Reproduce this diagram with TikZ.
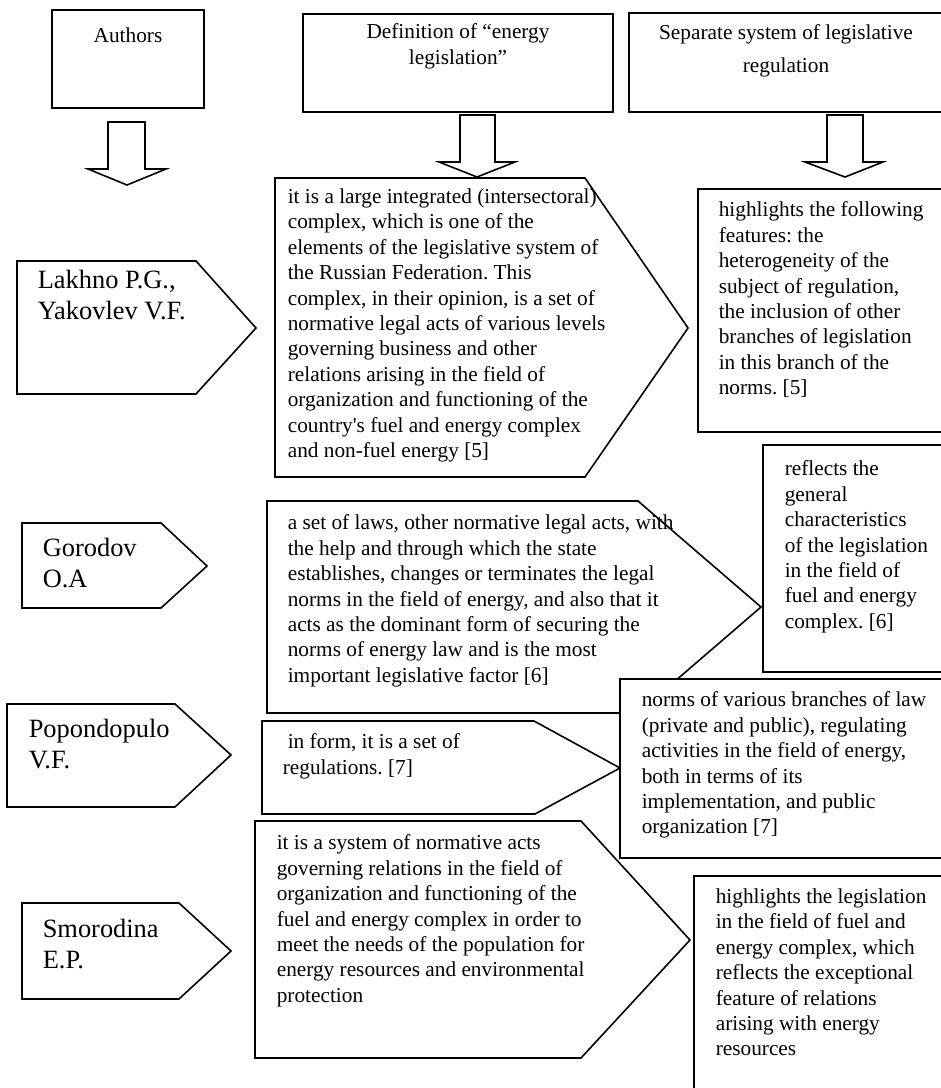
\documentclass[tikz,border=0pt]{standalone}
\usepackage{fontspec}
\setmainfont{Liberation Serif}
\frenchspacing

\begin{document}
\begin{tikzpicture}[x=0.5pt, y=-0.5pt, line width=0.8pt,
  body/.style={anchor=north west, inner sep=0pt, align=left,
    font=\fontsize{10.65}{12.7}\selectfont, execute at begin node=\strut},
  author/.style={anchor=north west, inner sep=0pt, align=left,
    font=\fontsize{13.2}{15.9}\selectfont, execute at begin node=\strut},
  title/.style={anchor=north, inner sep=0pt, align=center,
    font=\fontsize{10.65}{12.7}\selectfont, execute at begin node=\strut},
  panel/.style={draw, fill=white}]

\useasboundingbox (0,0) rectangle (941,1088);
\clip (0,0) rectangle (941,1088);

% Header boxes
\draw[panel] (52,10) rectangle (204,108);
\draw[panel] (303,14) rectangle (613,112);
\draw[panel] (629,13) rectangle (960,112);

% Block arrows
\draw[panel] (108,122) -- (145,122) -- (145,169) -- (166,169) -- (127,185) -- (88,169) -- (108,169) -- cycle;
\draw[panel] (460,115) -- (495,115) -- (495,162) -- (515,162) -- (477,177) -- (439,162) -- (460,162) -- cycle;
\draw[panel] (827,115) -- (863,115) -- (863,162) -- (883,162) -- (845,177) -- (805,162) -- (827,162) -- cycle;

% Author pointers
\draw[panel] (17,261) -- (196,261) -- (256,328) -- (196,394) -- (17,394) -- cycle;
\draw[panel] (22,523) -- (161,523) -- (207,566) -- (161,608) -- (22,608) -- cycle;
\draw[panel] (7,704) -- (175,704) -- (231,755) -- (175,807) -- (7,807) -- cycle;
\draw[panel] (22,903) -- (179,903) -- (231,951) -- (179,999) -- (22,999) -- cycle;

% Definition pointers
\draw[panel] (275,178) -- (585,178) -- (688,328) -- (585,477) -- (275,477) -- cycle;
\draw[panel] (267,501) -- (638,501) -- (761,607) -- (638,713) -- (267,713) -- cycle;
\draw[panel] (262,721) -- (534,721) -- (620,768) -- (535,814) -- (262,814) -- cycle;
\draw[panel] (255,821) -- (581,821) -- (690,940) -- (581,1058) -- (255,1058) -- cycle;

% Separate system boxes
\draw[panel] (698,189) rectangle (960,432);
\draw[panel] (763,445) rectangle (960,672);
\draw[panel] (620,679) rectangle (960,858);
\draw[panel] (694,876) rectangle (960,1100);

% Header texts
\node (authors) [title] at (128,24) {Authors};
\node (definition) [title] at (458,23) {Definition of ``energy\\legislation''};
\node (separate) [title] at (786,24) {Separate system of legislative\\[3.5pt]regulation};

% Authors
\node (lakhno) [author] at (37,269) {Lakhno P.G.,\\Yakovlev V.F.};
\node (gorodov) [author] at (42,537) {Gorodov\\O.A};
\node (popondopulo) [author] at (28,718) {Popondopulo\\V.F.};
\node (smorodina) [author] at (42,918) {Smorodina\\E.P.};

% Definitions
\node (deflakhno) [body] at (287,188) {it is a large integrated (intersectoral)\\
complex, which is one of the\\
elements of the legislative system of\\
the Russian Federation. This\\
complex, in their opinion, is a set of\\
normative legal acts of various levels\\
governing business and other\\
relations arising in the field of\\
organization and functioning of the\\
country\textquotesingle s fuel and energy complex\\
and non-fuel energy [5]};
\node (defgorodov) [body] at (287,514) {a set of laws, other normative legal acts, with\\
the help and through which the state\\
establishes, changes or terminates the legal\\
norms in the field of energy, and also that it\\
acts as the dominant form of securing the\\
norms of energy law and is the most\\
important legislative factor [6]};
\node (defpopondopulo) [body] at (282,733) {\hspace*{2.5pt}in form, it is a set of\\
regulations. [7]};
\node (defsmorodina) [body] at (276,834) {it is a system of normative acts\\
governing relations in the field of\\
organization and functioning of the\\
fuel and energy complex in order to\\
meet the needs of the population for\\
energy resources and environmental\\
protection};

% Separate system
\node (seplakhno) [body] at (718,201) {highlights the following\\
features: the\\
heterogeneity of the\\
subject of regulation,\\
the inclusion of other\\
branches of legislation\\
in this branch of the\\
norms. [5]};
\node (sepgorodov) [body] at (784,460) {reflects the\\
general\\
characteristics\\
of the legislation\\
in the field of\\
fuel and energy\\
complex. [6]};
\node (seppopondopulo) [body] at (641,691) {norms of various branches of law\\
(private and public), regulating\\
activities in the field of energy,\\
both in terms of its\\
implementation, and public\\
organization [7]};
\node (sepsmorodina) [body] at (715,888) {highlights the legislation\\
in the field of fuel and\\
energy complex, which\\
reflects the exceptional\\
feature of relations\\
arising with energy\\
resources};

\end{tikzpicture}
\end{document}
